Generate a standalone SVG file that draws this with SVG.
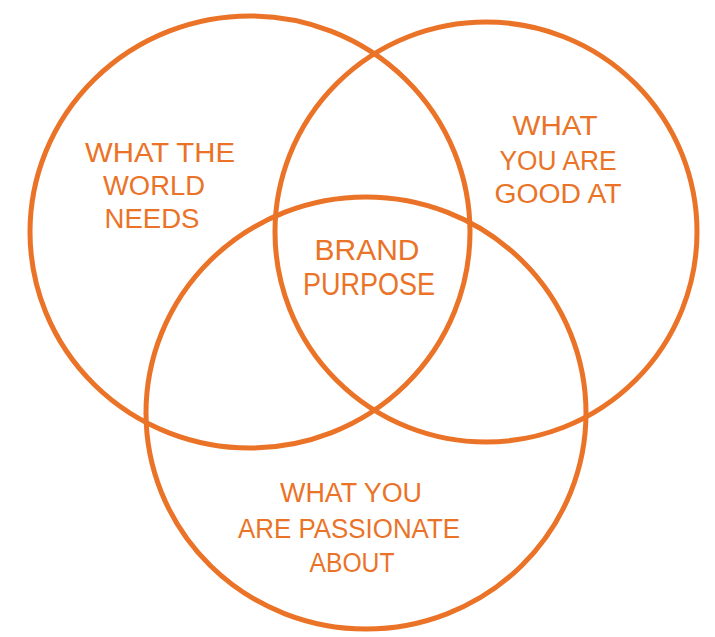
<svg xmlns="http://www.w3.org/2000/svg" width="715" height="637" viewBox="0 0 715 637">
<style>
.ring{fill:none;stroke:#EA7328;stroke-width:5;}
.lbl{font-family:"Liberation Sans","DejaVu Sans",sans-serif;font-size:27px;fill:#EA7328;text-anchor:middle;}
</style>
<rect width="715" height="637" fill="#ffffff"/>
<g id="connectors"></g>
<g id="world-needs">
<ellipse class="ring" cx="250" cy="232" rx="220" ry="216"/>
<text class="lbl" x="160" y="162" textLength="150" lengthAdjust="spacingAndGlyphs">WHAT THE</text>
<text class="lbl" x="154" y="195" textLength="102" lengthAdjust="spacingAndGlyphs">WORLD</text>
<text class="lbl" x="152" y="228" textLength="95" lengthAdjust="spacingAndGlyphs">NEEDS</text>
</g>
<g id="good-at">
<ellipse class="ring" cx="486" cy="232" rx="211" ry="210"/>
<text class="lbl" x="555" y="135" textLength="85" lengthAdjust="spacingAndGlyphs">WHAT</text>
<text class="lbl" x="558" y="170" textLength="117" lengthAdjust="spacingAndGlyphs">YOU ARE</text>
<text class="lbl" x="558" y="203" textLength="127" lengthAdjust="spacingAndGlyphs">GOOD AT</text>
</g>
<g id="passionate">
<ellipse class="ring" cx="366" cy="413" rx="220" ry="216"/>
<text class="lbl" x="351" y="502" textLength="142" lengthAdjust="spacingAndGlyphs">WHAT YOU</text>
<text class="lbl" x="349" y="538" textLength="222" lengthAdjust="spacingAndGlyphs">ARE PASSIONATE</text>
<text class="lbl" x="352" y="572" textLength="85" lengthAdjust="spacingAndGlyphs">ABOUT</text>
</g>
<g id="brand-purpose">
<text class="lbl" x="367" y="260" style="font-size:29px" textLength="105" lengthAdjust="spacingAndGlyphs">BRAND</text>
<text class="lbl" x="369" y="295" style="font-size:31px" textLength="132" lengthAdjust="spacingAndGlyphs">PURPOSE</text>
</g>
</svg>
